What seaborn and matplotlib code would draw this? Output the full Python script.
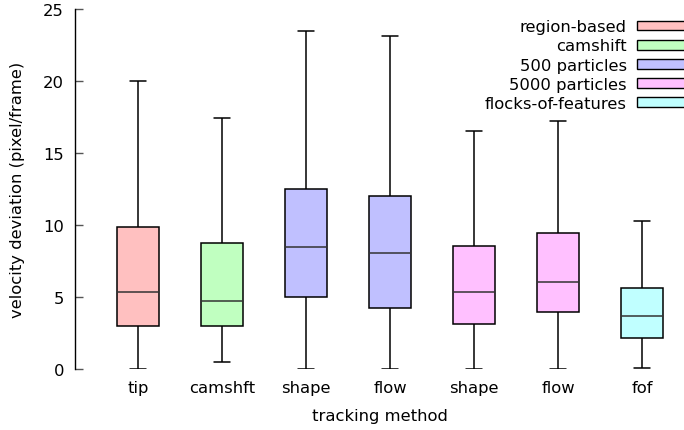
import numpy as np
import pandas as pd
import seaborn as sns
import matplotlib.pyplot as plt
from matplotlib.patches import Patch

categories = ["tip", "camshft", "shape", "flow", "shape", "flow", "fof"]
box_series = ["region-based", "camshift", "500 particles", "500 particles",
              "5000 particles", "5000 particles", "flocks-of-features"]
whisker_low = [0.0, 0.46, 0.0, 0.0, 0.0, 0.0, 0.07]
q1 = [2.99, 2.99, 5.0, 4.21, 3.12, 3.98, 2.15]
median = [5.37, 4.70, 8.47, 8.03, 5.37, 6.07, 3.66]
q3 = [9.84, 8.77, 12.5, 12.04, 8.56, 9.42, 5.6]
whisker_high = [20.0, 17.43, 23.47, 23.1, 16.55, 17.2, 10.3]

series_names = ["region-based", "camshift", "500 particles", "5000 particles", "flocks-of-features"]
series_colors = ["#ffc0c0", "#c0ffc0", "#c0c0ff", "#ffc0ff", "#c0ffff"]

rows = []
for i in range(len(categories)):
    for v in (whisker_low[i], q1[i], median[i], q3[i], whisker_high[i]):
        rows.append({"pos": str(i), "value": v, "series": box_series[i]})
df = pd.DataFrame(rows)

sns.set_theme(style="ticks")
plt.rcParams["font.family"] = ["DejaVu Sans"]
FS = 11.75

fig = plt.figure(figsize=(6.84, 4.31), dpi=100)
ax = fig.add_axes([75 / 684, 61 / 431, (684 - 75) / 684, 360 / 431])

sns.boxplot(data=df, x="pos", y="value", hue="series", hue_order=series_names,
            palette=series_colors, order=[str(i) for i in range(len(categories))],
            dodge=False, whis=np.inf, width=0.5, linecolor="black", linewidth=1.1,
            saturation=1, legend=False, ax=ax,
            medianprops=dict(color="#333333", linewidth=1.1))

# narrow the whisker caps
cap_lines = []
for cont in ax.containers:
    caps = getattr(cont, "caps", None)
    if caps is not None:
        cap_lines.extend(list(caps))
for ln in cap_lines:
    xd = np.asarray(ln.get_xdata(), dtype=float)
    c = xd.mean()
    ln.set_xdata([c - 0.095, c + 0.095])

ax.set_xlim(-0.75, 6.5)
ax.set_ylim(0, 25)
ax.set_yticks([0, 5, 10, 15, 20, 25])
ax.set_xticks(range(len(categories)), categories)
for s in ["top", "right", "bottom"]:
    ax.spines[s].set_visible(False)
ax.spines["left"].set_color("black")
ax.spines["left"].set_linewidth(1.0)
ax.tick_params(axis="y", direction="in", length=6, width=1, color="#555555",
               labelsize=FS, labelcolor="black", pad=8)
ax.tick_params(axis="x", length=0, labelsize=FS, labelcolor="black", pad=8)
ax.set_xlabel("tracking method", fontsize=FS, color="black", labelpad=9)
ax.set_ylabel("velocity deviation (pixel/frame)", fontsize=FS, color="black", labelpad=13)

handles = [Patch(facecolor=c, edgecolor="black", linewidth=1) for c in series_colors]
leg = fig.legend(handles, series_names, loc="upper right", bbox_to_anchor=(1.012, 0.968),
                 frameon=False, markerfirst=False, fontsize=FS, handlelength=3.0,
                 handleheight=0.55, labelspacing=0.255, handletextpad=0.6, borderaxespad=0)
for t in leg.get_texts():
    t.set_color("black")

fig.savefig("out.png", dpi=100)
